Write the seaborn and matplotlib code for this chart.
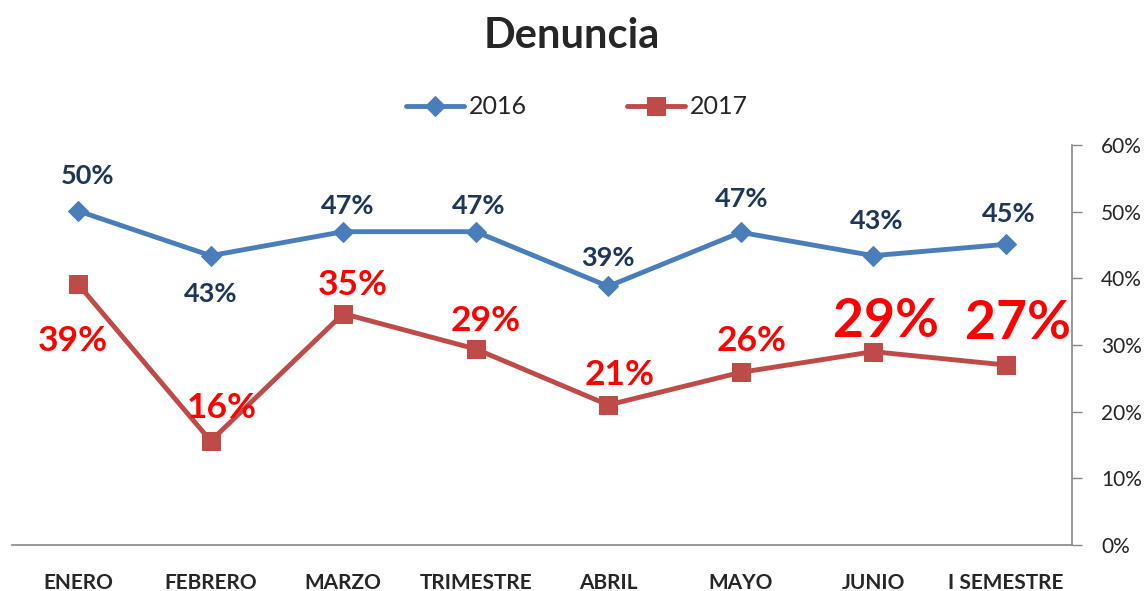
import numpy as np
import pandas as pd
import seaborn as sns
import matplotlib.pyplot as plt
from matplotlib.ticker import FixedLocator, PercentFormatter

# data
meses = ['ENERO', 'FEBRERO', 'MARZO', 'TRIMESTRE', 'ABRIL', 'MAYO', 'JUNIO', 'I SEMESTRE']
v2016 = [0.501, 0.434, 0.470, 0.470, 0.388, 0.469, 0.434, 0.451]
v2017 = [0.391, 0.156, 0.347, 0.294, 0.210, 0.259, 0.290, 0.270]

sns.set_style('white')
plt.rcParams['font.family'] = ['Lato', 'DejaVu Sans']

df = pd.DataFrame({'mes': meses * 2,
                   'valor': v2016 + v2017,
                   'anio': ['2016'] * len(meses) + ['2017'] * len(meses)})

fig = plt.figure(figsize=(11.48, 5.91), dpi=100)
ax = fig.add_axes([12 / 1148, 46 / 591, 1060 / 1148, 400 / 591])

blue, red = '#4A7EBB', '#BE4B48'
sns.lineplot(data=df[df.anio == '2016'], x='mes', y='valor', ax=ax, color=blue,
             lw=3.5, marker='D', ms=10.5, mec=blue, label='2016', sort=False)
sns.lineplot(data=df[df.anio == '2017'], x='mes', y='valor', ax=ax, color=red,
             lw=3.5, marker='s', ms=13.5, mec=red, label='2017', sort=False)

# label offsets in pixels (dx, dy of text baseline vs. point)
off16 = [(9, -27), (0, 46), (4, -18), (3, -18), (0, -20), (1, -25), (3, -27), (3, -22)]
off17 = [(-5, 67), (11, -23), (10, -19), (10, -18), (11, -20), (11, -21), (13, -15), (12, -26)]
size17 = [25.5, 25.5, 25.5, 25.5, 25.5, 25.5, 38.5, 38.5]

for i, v in enumerate(v2016):
    ax.annotate(f'{v:.0%}', (i, v), xytext=(off16[i][0], -off16[i][1]),
                textcoords='offset pixels', ha='center', va='baseline',
                fontsize=19.5, fontweight='bold', color='#1D3659')
for i, v in enumerate(v2017):
    ax.annotate(f'{v:.0%}', (i, v), xytext=(off17[i][0], -off17[i][1]),
                textcoords='offset pixels', ha='center', va='baseline',
                fontsize=size17[i], fontweight='bold', color='#FF0000')

ax.set_xlim(-0.5, len(meses) - 0.5)
ax.set_ylim(0, 0.6)
ax.set_xlabel('')
ax.set_ylabel('')

# x: ticks on category borders, labels at centers
ax.xaxis.set_major_locator(FixedLocator(np.arange(-0.5, len(meses), 1)))
ax.xaxis.set_minor_locator(FixedLocator(np.arange(len(meses))))
ax.set_xticklabels([], minor=False)
ax.set_xticklabels(meses, minor=True, fontsize=15, fontweight='bold')
ax.tick_params(axis='x', which='major', length=7, width=1, color='#868686', direction='out')
ax.tick_params(axis='x', which='minor', length=0, pad=20)

# y on the right
ax.yaxis.tick_right()
ax.set_yticks(np.arange(0, 0.61, 0.1))
ax.yaxis.set_major_formatter(PercentFormatter(1.0, decimals=0))
ax.tick_params(axis='y', which='major', length=7, width=1, color='#868686',
               direction='out', labelsize=15, pad=14, right=True, left=False)

for s in ['left', 'top']:
    ax.spines[s].set_visible(False)
for s in ['right', 'bottom']:
    ax.spines[s].set_color('#868686')
    ax.spines[s].set_linewidth(1.2)

ax.legend(loc='center', bbox_to_anchor=(577 / 1148, 1 - 107 / 591),
          bbox_transform=fig.transFigure, ncol=2, frameon=False, fontsize=18,
          handlelength=2.3, handletextpad=0.2, columnspacing=4.0)

fig.text(572 / 1148, 1 - 48 / 591, 'Denuncia', ha='center', va='baseline',
         fontsize=30, fontweight='bold')

fig.savefig('out.png', dpi=100)
